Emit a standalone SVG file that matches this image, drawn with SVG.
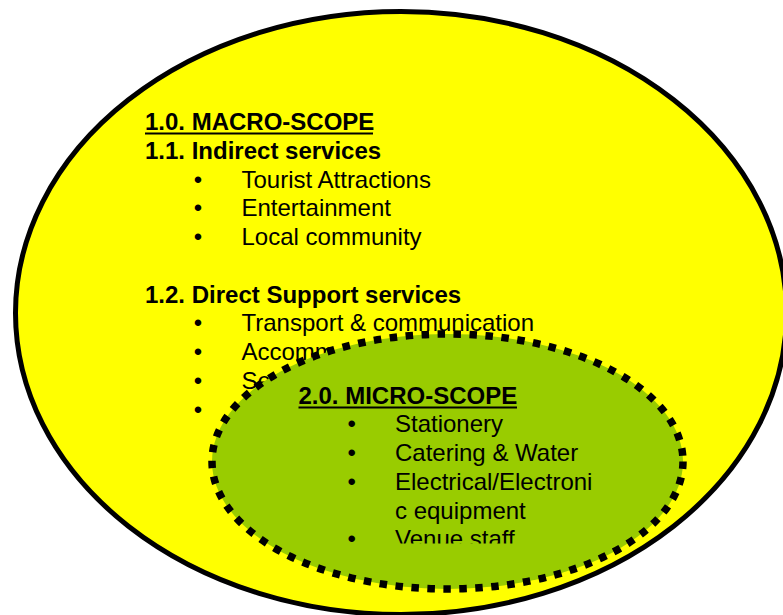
<svg xmlns="http://www.w3.org/2000/svg" width="783" height="615" viewBox="0 0 783 615">
<style>
text{font-family:"Liberation Sans",Arial,sans-serif;font-size:24px;fill:#000}
.b{font-weight:bold}
.ul{stroke:#000;stroke-width:2}
</style>
<defs>
<clipPath id="innerClip"><rect x="0" y="0" width="783" height="543.5"/></clipPath>
</defs>
<rect width="783" height="615" fill="#fff"/>
<g id="macro-scope">
<ellipse cx="401" cy="313" rx="385.5" ry="301.5" fill="#ffff00" stroke="#000" stroke-width="5"/>
<text class="b" x="145" y="130">1.0. MACRO-SCOPE</text>
<line class="ul" x1="145" y1="133.5" x2="373" y2="133.5"/>
<text class="b" x="145" y="158.75">1.1. Indirect services</text>
<text x="193.8" y="187.5">•</text><text x="241.5" y="187.5">Tourist Attractions</text>
<text x="193.8" y="216.25">•</text><text x="241.5" y="216.25">Entertainment</text>
<text x="193.8" y="245">•</text><text x="241.5" y="245">Local community</text>
<text class="b" x="145" y="302.5">1.2. Direct Support services</text>
<text x="193.8" y="331.25">•</text><text x="241.5" y="331.25">Transport &amp; communication</text>
<text x="193.8" y="360">•</text><text x="241.5" y="360">Accomm</text>
<text x="193.8" y="388.75">•</text><text x="241.5" y="388.75">Se</text>
<text x="193.8" y="417.5">•</text>
</g>
<g id="micro-scope">
<ellipse cx="447.5" cy="461.5" rx="235.5" ry="127.5" fill="#99cc00" stroke="#000" stroke-width="7.5" stroke-dasharray="7.5 8.5"/>
<g clip-path="url(#innerClip)">
<text class="b" x="298.5" y="403.5">2.0. MICRO-SCOPE</text>
<line class="ul" x1="298.5" y1="407.5" x2="517" y2="407.5"/>
<text x="347.5" y="432.25">•</text><text x="395" y="432.25">Stationery</text>
<text x="347.5" y="461">•</text><text x="395" y="461">Catering &amp; Water</text>
<text x="347.5" y="489.75">•</text><text x="395" y="489.75">Electrical/Electroni</text>
<text x="395" y="518.5">c equipment</text>
<text x="347.5" y="547.25">•</text><text x="395" y="547.25">Venue staff</text>
</g>
</g>
<g id="connectors"/>
</svg>
